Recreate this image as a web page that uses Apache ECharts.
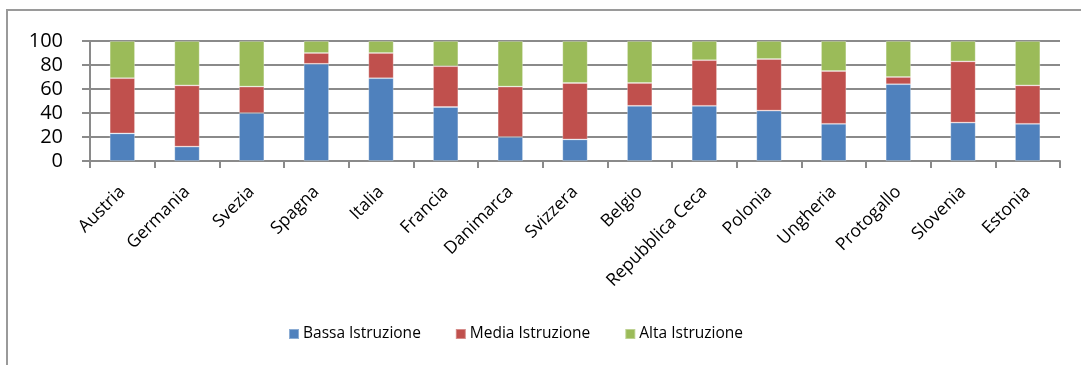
<!DOCTYPE html>
<html>
<head>
<meta charset="utf-8">
<script src="https://cdn.jsdelivr.net/npm/echarts@6/dist/echarts.min.js"></script>
<style>
  html, body { margin: 0; padding: 0; background: #fff; }
  #chart { width: 1081px; height: 365px; }
</style>
</head>
<body>
<div id="chart"></div>
<script>
// Livello di istruzione per paese (valori percentuali)
const paesi = ['Austria', 'Germania', 'Svezia', 'Spagna', 'Italia', 'Francia', 'Danimarca',
  'Svizzera', 'Belgio', 'Repubblica Ceca', 'Polonia', 'Ungheria', 'Protogallo', 'Slovenia', 'Estonia'];
const bassa = [23, 12, 40, 81, 69, 45, 20, 18, 46, 46, 42, 31, 64, 32, 31];
const media = [46, 51, 22, 9, 21, 34, 42, 47, 19, 38, 43, 44, 6, 51, 32];
const alta  = [31, 37, 38, 10, 10, 21, 38, 35, 35, 16, 15, 25, 30, 17, 37];
const yTicks = [0, 20, 40, 60, 80, 100];

const FONT = '"Open Sans", Lato, sans-serif';
const GRID_COLOR = '#8a8a8a';

const chart = echarts.init(document.getElementById('chart'), null, { renderer: 'canvas' });

function serie(name, data, color) {
  return {
    name: name,
    type: 'bar',
    stack: 'totale',
    data: data,
    barWidth: '39%',
    itemStyle: { color: color, borderColor: 'rgba(255,255,255,0.35)', borderWidth: 0.8 },
    emphasis: { disabled: true }
  };
}

chart.setOption({
  animation: false,
  backgroundColor: '#fff',
  textStyle: { fontFamily: FONT },
  graphic: [{
    type: 'rect',
    shape: { x: 7, y: 10, width: 1200, height: 500 },
    style: { fill: 'none', stroke: '#9a9a9a', lineWidth: 2 },
    silent: true,
    z: -1
  }],
  grid: { left: 90, right: 21, top: 41, bottom: 204, containLabel: false },
  legend: {
    data: ['Bassa Istruzione', 'Media Istruzione', 'Alta Istruzione'],
    left: 283,
    top: 321,
    icon: 'rect',
    itemWidth: 10,
    itemHeight: 10,
    itemGap: 34,
    textStyle: { fontFamily: FONT, fontSize: 15.5, color: '#000', padding: [0, 0, 0, -1] },
    selectedMode: false
  },
  xAxis: {
    type: 'category',
    data: paesi,
    axisLine: { lineStyle: { color: GRID_COLOR, width: 2 } },
    axisTick: { show: true, length: 7, inside: false, alignWithLabel: false, lineStyle: { color: GRID_COLOR, width: 2 } },
    axisLabel: {
      interval: 0,
      rotate: 45,
      margin: 28,
      fontFamily: FONT,
      fontSize: 17.5,
      color: '#000'
    }
  },
  yAxis: {
    type: 'value',
    min: yTicks[0],
    max: yTicks[yTicks.length - 1],
    interval: yTicks[1] - yTicks[0],
    axisLine: { show: true, lineStyle: { color: GRID_COLOR, width: 2 } },
    axisTick: { show: true, length: 8, lineStyle: { color: GRID_COLOR, width: 2 } },
    splitLine: { lineStyle: { color: GRID_COLOR, width: 2 } },
    axisLabel: {
      margin: 27,
      fontFamily: FONT,
      fontSize: 20,
      color: '#000',
      formatter: function (v) { return yTicks.indexOf(v) >= 0 ? String(v) : ''; }
    }
  },
  series: [
    serie('Bassa Istruzione', bassa, '#4f81bd'),
    serie('Media Istruzione', media, '#c0504d'),
    serie('Alta Istruzione', alta, '#9bbb59')
  ]
});
</script>
</body>
</html>
